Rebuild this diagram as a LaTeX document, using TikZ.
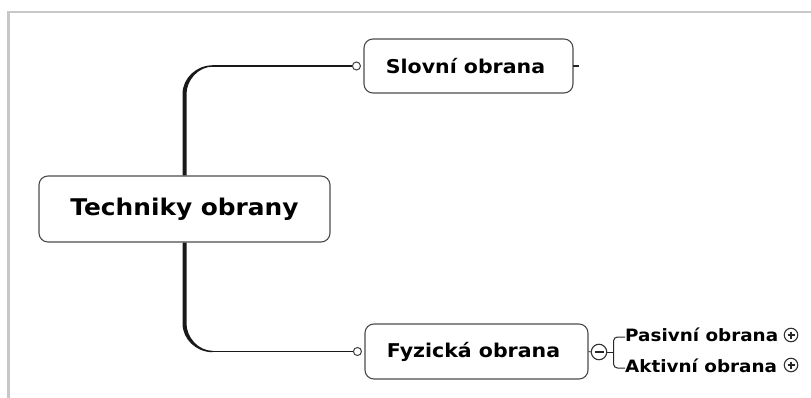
\documentclass[tikz,border=0pt]{standalone}
\usepackage{fontspec}
\setmainfont[FakeStretch=1.08]{DejaVu Sans}
\usetikzlibrary{calc}
\tikzset{
  x=1pt, y=-1pt,
  topic/.style={draw=black!70, line width=1.1pt, rounded corners=9pt, fill=white,
    inner sep=0pt, font=\bfseries},
  conn/.style={fill=black!90, draw=none},
  thin conn/.style={draw=black!90, line width=1.4pt},
  knob/.style={circle, draw=black!75, line width=1pt, fill=white, inner sep=0pt, minimum size=8pt},
  toggle/.style={circle, draw=black!80, line width=1.1pt, fill=white, inner sep=0pt},
  leaf/.style={font=\bfseries\fontsize{17}{20}\selectfont, inner sep=0pt, anchor=west},
  frame/.style={draw=black!22, line width=2.5pt}
}
\begin{document}
\begin{tikzpicture}
\useasboundingbox (0,0) rectangle (811,398);
% outer frame (top and left edges)
\draw[frame] (811,12) -- (8.5,12) -- (8.5,398);

% topics
\node[topic, minimum width=291pt, minimum height=66pt, font=\bfseries\fontsize{23}{27}\selectfont]
  (root) at (184.5,209) {Techniky obrany};
\node[topic, minimum width=209pt, minimum height=54pt, font=\bfseries\fontsize{19}{22}\selectfont]
  (sl) at (468.5,66) {\hspace*{-6pt}Slovní obrana};
\node[topic, minimum width=223pt, minimum height=55pt, font=\bfseries\fontsize{19}{22}\selectfont]
  (fy) at (476.5,351.5) {\hspace*{-6pt}Fyzická obrana};

% attachment knobs
\node[knob] (ks) at ($(sl.west)+(-7,0)$) {};
\node[knob] (kf) at ($(fy.west)+(-7,0)$) {};

% upper branch: tapered stem with rounded corner
\coordinate (cu) at (root.north |- sl.west);
\fill[conn] ($(root.north)+(-2,0)$) -- ($(cu)+(-2,28)$)
  .. controls ($(cu)+(-2,12)$) and ($(cu)+(12,-0.7)$) .. ($(cu)+(28,-0.7)$)
  -- ($(cu)+(28,0.7)$)
  .. controls ($(cu)+(14,0.7)$) and ($(cu)+(2,14)$) .. ($(cu)+(2,28)$)
  -- ($(root.north)+(2,0)$) -- cycle;
\draw[thin conn] ($(cu)+(27,0)$) -- (ks.west);

% lower branch
\coordinate (cd) at (root.south |- fy.west);
\fill[conn] ($(root.south)+(-2,0)$) -- ($(cd)+(-2,-28)$)
  .. controls ($(cd)+(-2,-12)$) and ($(cd)+(12,0.7)$) .. ($(cd)+(28,0.7)$)
  -- ($(cd)+(28,-0.7)$)
  .. controls ($(cd)+(14,-0.7)$) and ($(cd)+(2,-14)$) .. ($(cd)+(2,-28)$)
  -- ($(root.south)+(2,0)$) -- cycle;
\draw[thin conn] ($(cd)+(27,0)$) -- (kf.west);

% stub on the right of the upper topic
\coordinate (stub) at ($(sl.east)+(5,0)$);
\draw[black!85, line width=1.2pt] ($(sl.east)+(-0.5,0)$) -- (stub);

% collapse toggle and subtopics
\node[toggle, minimum size=15.5pt] (minus) at (599,352) {};
\draw[black!80, line width=0.9pt] (fy.east) -- (minus.west);
\draw[black!85, line width=1.3pt] ($(minus.center)+(-4.5,0)$) -- ($(minus.center)+(4.5,0)$);

\node[leaf] (pas) at (625,335) {Pasivní obrana};
\node[leaf] (akt) at (625,366) {Aktivní obrana};

\coordinate (bm) at (613.5,352);
\draw[black!85, line width=1pt] (minus.east) -- (bm);
\draw[black!85, line width=1pt, rounded corners=4pt]
  (pas.west |- 0,337) -- (bm |- 0,337) -- (bm |- 0,368) -- (pas.west |- 0,368);

\node[toggle, minimum size=13.5pt] (pp) at (791,335) {};
\node[toggle, minimum size=13.5pt] (ap) at (791,365) {};
\foreach \n in {pp,ap}{
  \draw[black!85, line width=1.1pt] ($(\n.center)+(-3.5,0)$) -- ($(\n.center)+(3.5,0)$);
  \draw[black!85, line width=1.1pt] ($(\n.center)+(0,-3.5)$) -- ($(\n.center)+(0,3.5)$);
}
\end{tikzpicture}
\end{document}
